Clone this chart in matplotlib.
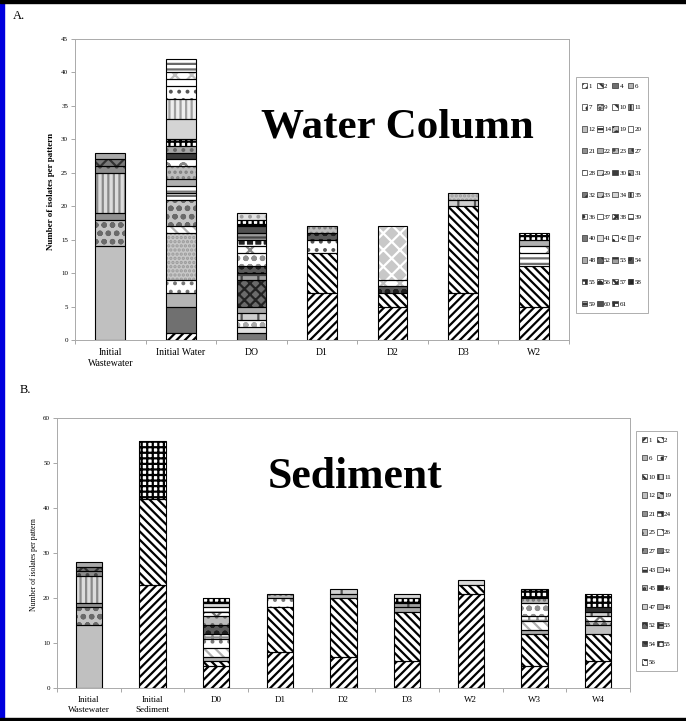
import matplotlib

matplotlib.use("Agg")
import matplotlib.pyplot as plt  # noqa: E402
from matplotlib.patches import Patch, Rectangle  # noqa: E402

plt.rcParams["font.family"] = ["Liberation Serif", "DejaVu Serif"]
plt.rcParams["hatch.linewidth"] = 1.6

W, H = 686, 721

# estilos dos padrões: id -> (cor de fundo, hatch, cor do hatch)
ESTILO = {
    1: ("white", "////", "black"),
    2: ("white", "\\\\\\\\", "black"),
    4: ("#707070", "", "#707070"),
    6: ("#b4b4b4", "", "#b4b4b4"),
    7: ("white", "..", "#777777"),
    9: ("#c8c8c8", "....", "#9a9a9a"),
    10: ("white", "\\\\\\", "#b0b0b0"),
    11: ("#dcdcdc", "|||", "#8a8a8a"),
    12: ("#c0c0c0", "", "#c0c0c0"),
    14: ("white", "--", "#666666"),
    19: ("#c4c4c4", "oo", "#6a6a6a"),
    20: ("white", "-", "#777777"),
    21: ("#909090", "", "#909090"),
    22: ("#b0b0b0", "", "#b0b0b0"),
    23: ("#bdbdbd", "...", "#808080"),
    24: ("white", "++", "#888888"),
    25: ("#bbbbbb", "..", "#666666"),
    26: ("white", "xx", "#777777"),
    27: ("#8c8c8c", "..", "#444444"),
    28: ("white", "o", "#888888"),
    29: ("#e2e2e2", "..", "#a0a0a0"),
    30: ("#3c3c3c", "", "#3c3c3c"),
    31: ("#a8a8a8", "..", "#666666"),
    32: ("#7a7a7a", "xx", "#333333"),
    33: ("#c8c8c8", "xx", "white"),
    34: ("#d4d4d4", "", "#d4d4d4"),
    35: ("#eeeeee", "|||", "#a0a0a0"),
    36: ("white", "..", "#555555"),
    37: ("white", "-", "#666666"),
    38: ("white", "xx", "#c0c0c0"),
    39: ("white", "---", "#6a6a6a"),
    40: ("#787878", "", "#787878"),
    41: ("#e0e0e0", "", "#e0e0e0"),
    42: ("white", "oo", "#a8a8a8"),
    43: ("white", "--", "#888888"),
    44: ("#d8d8d8", "", "#d8d8d8"),
    45: ("#b8b8b8", "...", "#707070"),
    46: ("#303030", "", "#303030"),
    47: ("#cfcfcf", "|", "#555555"),
    48: ("#aaaaaa", "", "#aaaaaa"),
    52: ("#6a6a6a", "xxx", "#222222"),
    53: ("#a0a0a0", "+", "#444444"),
    54: ("#5a5a5a", "oo", "#1e1e1e"),
    55: ("white", "+++", "black"),
    56: ("white", "oo", "#909090"),
    57: ("white", "x", "#888888"),
    58: ("#222222", "++", "white"),
    59: ("#9a9a9a", "--", "#444444"),
    60: ("#505050", "", "#505050"),
    61: ("white", "+++", "black"),
}

# A. coluna d'água
AGUA_CATS = ["Initial\nWastewater", "Initial Water", "DO", "D1", "D2", "D3", "W2"]
AGUA_PADROES = [
    [12, 19, 21, 11, 27, 32, 48],
    [1, 4, 6, 7, 9, 10, 19, 14, 20, 22, 23, 28, 30, 31, 55, 34, 35, 36, 37, 38, 39],
    [40, 41, 42, 47, 48, 52, 53, 54, 56, 57, 58, 59, 60, 61, 29],
    [1, 2, 36, 54, 23],
    [1, 2, 54, 38, 33],
    [1, 2, 47, 9],
    [1, 2, 39, 57, 22, 61],
]
AGUA_CONTAGENS = [
    [14, 4, 1, 6, 1, 1, 1],
    [1, 4, 2, 2, 7, 1, 4, 1, 1, 1, 2, 1, 1, 1, 1, 3, 3, 2, 1, 1, 2],
    [1, 1, 1, 1, 1, 4, 1, 1, 2, 1, 1, 1, 1, 1, 1],
    [7, 6, 2, 1, 1],
    [5, 2, 1, 1, 8],
    [7, 13, 1, 1],
    [5, 6, 2, 1, 1, 1],
]
AGUA_LEGENDA = [1, 2, 4, 6, 7, 9, 10, 11, 12, 14, 19, 20, 21, 22, 23, 27, 28, 29,
                30, 31, 32, 33, 34, 35, 36, 37, 38, 39, 40, 41, 42, 47, 48, 52, 53,
                54, 55, 56, 57, 58, 59, 60, 61]
AGUA_YTICKS = [0, 5, 10, 15, 20, 25, 30, 35, 40, 45]

# B. sedimento
SED_CATS = ["Initial\nWastewater", "Initial\nSediment", "D0", "D1", "D2", "D3",
            "W2", "W3", "W4"]
SED_PADROES = [
    [12, 19, 21, 11, 27, 32, 48],
    [1, 2, 55],
    [1, 2, 6, 10, 7, 24, 54, 25, 26, 43, 44, 55],
    [1, 2, 7, 45],
    [1, 2, 6, 47],
    [1, 2, 48, 53, 55, 44],
    [1, 2, 44],
    [1, 2, 48, 10, 24, 56, 45, 55],
    [1, 2, 12, 19, 26, 47, 46, 55],
]
SED_CONTAGENS = [
    [14, 4, 1, 6, 1, 1, 1],
    [23, 19, 13],
    [5, 1, 1, 2, 2, 1, 2, 2, 1, 1, 1, 1],
    [8, 10, 2, 1],
    [7, 13, 1, 1],
    [6, 11, 1, 1, 1, 1],
    [21, 2, 1],
    [5, 7, 1, 2, 1, 3, 1, 2],
    [6, 6, 2, 1, 1, 1, 1, 3],
]
SED_LEGENDA = [1, 2, 6, 7, 10, 11, 12, 19, 21, 24, 25, 26, 27, 32, 43, 44, 45, 46,
               47, 48, 52, 53, 54, 55, 56]
SED_YTICKS = [0, 10, 20, 30, 40, 50, 60]


def px_box(x0, y0, x1, y1):
    # caixa em pixels (origem no topo) -> fração da figura
    return [x0 / W, 1 - y1 / H, (x1 - x0) / W, (y1 - y0) / H]


def empilhar(ax, padroes, contagens, largura):
    for i, (ps, cs) in enumerate(zip(padroes, contagens)):
        base = 0
        for p, c in zip(ps, cs):
            face, hatch, hcor = ESTILO[p]
            ax.bar(i, c, bottom=base, width=largura, color=face, hatch=hatch,
                   edgecolor=hcor, linewidth=0, zorder=2)
            ax.bar(i, c, bottom=base, width=largura, fill=False,
                   edgecolor="black", linewidth=0.8, zorder=3)
            base += c


def eixo(ax, cats, yticks, xfs, yfs):
    n = len(cats)
    ax.set_xlim(-0.5, n - 0.5)
    ax.set_ylim(yticks[0], yticks[-1])
    ax.set_yticks(yticks)
    ax.set_xticks(range(n))
    ax.set_xticklabels(cats, fontsize=xfs, linespacing=1.25)
    ax.set_xticks([i + 0.5 for i in range(-1, n)], minor=True)
    ax.tick_params(axis="x", which="major", length=0, pad=6)
    ax.tick_params(axis="x", which="minor", length=3, color="#999999", width=0.6)
    ax.tick_params(axis="y", labelsize=yfs, length=3, color="#999999", width=0.6, pad=2)
    for s in ax.spines.values():
        s.set_color("#aaaaaa")
        s.set_linewidth(0.7)


def legenda(fig, ids, ncol, caixa, espaco):
    nrow = -(-len(ids) // ncol)
    ordem = [ids[r * ncol + c] for c in range(ncol) for r in range(nrow)
             if r * ncol + c < len(ids)]
    handles = []
    for p in ordem:
        face, hatch, hcor = ESTILO[p]
        handles.append(Patch(facecolor=face, hatch=hatch, edgecolor="#333333",
                             linewidth=0.5, label=str(p)))
    leg = fig.legend(handles=handles, ncol=ncol, loc="upper left",
                     bbox_to_anchor=(caixa[0] / W, 1 - caixa[1] / H),
                     fontsize=5, handlelength=0.8, handleheight=0.8,
                     handletextpad=0.2, columnspacing=0.2, labelspacing=espaco,
                     borderpad=0.8, borderaxespad=0, frameon=True, fancybox=False)
    leg.get_frame().set_edgecolor("#999999")
    leg.get_frame().set_linewidth(0.7)


fig = plt.figure(figsize=(W / 100, H / 100), dpi=100)

# bordas da imagem escaneada
fig.patches.append(Rectangle((0, 0), 4 / W, 1, transform=fig.transFigure,
                             color="#0000dd", zorder=10))
fig.patches.append(Rectangle((0, 1 - 3 / H), 1, 3 / H, transform=fig.transFigure,
                             color="black", zorder=10))
fig.patches.append(Rectangle((0, 0), 1, 3.5 / H, transform=fig.transFigure,
                             color="black", zorder=10))

ax1 = fig.add_axes(px_box(75, 39, 569, 340))
empilhar(ax1, AGUA_PADROES, AGUA_CONTAGENS, 0.42)
eixo(ax1, AGUA_CATS, AGUA_YTICKS, 7, 5)
fig.text(51 / W, 1 - 191 / H, "Number of isolates per pattern", rotation=90,
         ha="center", va="center", fontsize=6.5, fontweight="bold")
fig.text(397 / W, 1 - 137 / H, "Water Column", ha="center", va="baseline",
         fontsize=31, fontweight="bold")
fig.text(13 / W, 1 - 16 / H, "A.", ha="left", va="center", fontsize=9)
legenda(fig, AGUA_LEGENDA, 4, (576, 77), 2.27)

ax2 = fig.add_axes(px_box(57, 418, 630, 688))
empilhar(ax2, SED_PADROES, SED_CONTAGENS, 0.41)
eixo(ax2, SED_CATS, SED_YTICKS, 6.5, 5)
fig.text(34 / W, 1 - 565 / H, "Number of isolates per pattern", rotation=90,
         ha="center", va="center", fontsize=5.5)
fig.text(355 / W, 1 - 488 / H, "Sediment", ha="center", va="baseline",
         fontsize=31.5, fontweight="bold")
fig.text(20 / W, 1 - 390 / H, "B.", ha="left", va="center", fontsize=9)
legenda(fig, SED_LEGENDA, 2, (636, 431), 1.8)

fig.savefig("out.png", dpi=100)
